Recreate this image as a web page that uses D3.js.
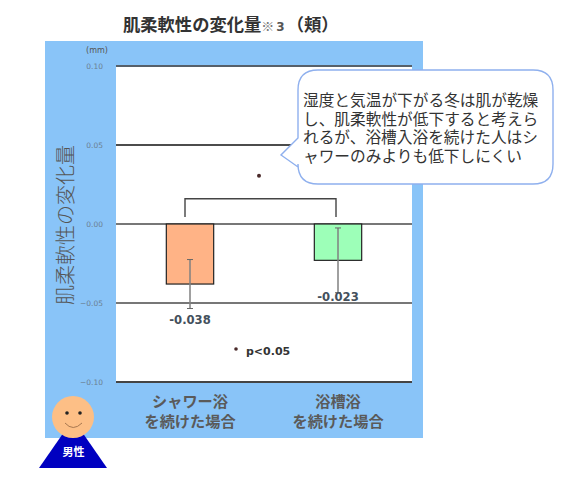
<!DOCTYPE html>
<html>
<head>
<meta charset="utf-8">
<script src="https://cdn.jsdelivr.net/npm/d3@7"></script>
<style>
  html, body { margin: 0; padding: 0; background: #fff; }
  text { font-family: "Noto Sans CJK JP", sans-serif; }
</style>
</head>
<body>
<svg id="chart"></svg>
<script>
// data
const categories = ["シャワー浴", "浴槽浴"];
const categorySub = ["を続けた場合", "を続けた場合"];
const means = [-0.038, -0.023];
const errors = [0.0155, 0.0205];
const yTicks = [0.10, 0.05, 0.00, -0.05, -0.10];
const noteLines = [
  "湿度と気温が下がる冬は肌が乾燥",
  "し、肌柔軟性が低下すると考えら",
  "れるが、浴槽入浴を続けた人はシ",
  "ャワーのみよりも低下しにくい"
];
const barColors = ["#ffb386", "#9dffb8"];
const gridColors = ["#56606a", "#111111", "#777777", "#777777", "#444444"];

const width = 585, height = 494;
const svg = d3.select("#chart").attr("width", width).attr("height", height);

// 水色の背景とプロット領域
svg.append("rect").attr("x", 45).attr("y", 41).attr("width", 378).attr("height", 397).attr("fill", "#89c4f8");
svg.append("rect").attr("x", 116).attr("y", 66).attr("width", 296).attr("height", 316).attr("fill", "#fff");

const x = d3.scaleBand().domain(categories).range([116, 412]).paddingInner(0.68).paddingOuter(0.34);
const y = d3.scaleLinear().domain([-0.10, 0.10]).range([382, 66]);

// y軸
const yAxis = d3.axisLeft(y).tickValues(yTicks).tickSize(0).tickPadding(13).tickFormat(d3.format(".2f"));
const gy = svg.append("g").attr("transform", "translate(116,0)").call(yAxis);
gy.select(".domain").remove();
gy.selectAll("text").attr("fill", "#6b7f92").style("font-size", "7.5px").style("font-family", "'DejaVu Sans'");

svg.append("text").attr("x", 97).attr("y", 53).attr("text-anchor", "middle")
  .attr("fill", "#555").style("font-size", "8px").style("font-family", "'DejaVu Sans'").text("(mm)");

// グリッド線
svg.append("g").selectAll("line").data(yTicks).join("line")
  .attr("x1", 116).attr("x2", 412)
  .attr("y1", d => y(d)).attr("y2", d => y(d))
  .attr("stroke", (d, i) => gridColors[i])
  .attr("stroke-width", (d, i) => i === 1 ? 1.5 : 2);

// 棒
svg.append("g").selectAll("rect").data(means).join("rect")
  .attr("x", (d, i) => x(categories[i]))
  .attr("y", y(0))
  .attr("width", x.bandwidth())
  .attr("height", d => y(d) - y(0))
  .attr("fill", (d, i) => barColors[i])
  .attr("stroke", "#222").attr("stroke-width", 1.2);

// エラーバー
const err = svg.append("g").attr("stroke", "#808080");
means.forEach((m, i) => {
  const cx = x(categories[i]) + x.bandwidth() / 2;
  err.append("line").attr("x1", cx).attr("x2", cx)
    .attr("y1", y(m + errors[i])).attr("y2", y(m - errors[i])).attr("stroke-width", 1.5);
  [m + errors[i], m - errors[i]].forEach(v => {
    err.append("line").attr("x1", cx - 3).attr("x2", cx + 3)
      .attr("y1", y(v)).attr("y2", y(v)).attr("stroke", "#666").attr("stroke-width", 1);
  });
});

// 値ラベル
svg.append("g").selectAll("text").data(means).join("text")
  .attr("x", (d, i) => x(categories[i]) + x.bandwidth() / 2)
  .attr("y", d => y(d - 0.0255))
  .attr("text-anchor", "middle")
  .attr("fill", "#44505c")
  .style("font-family", "'DejaVu Sans'").style("font-size", "11.6px").style("font-weight", "bold")
  .text(d => d3.format(".3f")(d).replace("−", "-"));

// 有意差のブラケット
const bx0 = x(categories[0]) + x.bandwidth() / 2 - 5, bx1 = x(categories[1]) + x.bandwidth() / 2 - 2;
svg.append("path")
  .attr("d", d3.line()([[bx0, y(0.0045)], [bx0, y(0.016)], [bx1, y(0.016)], [bx1, y(0.0045)]]))
  .attr("fill", "none").attr("stroke", "#444").attr("stroke-width", 1.4);
svg.append("circle").attr("cx", (bx0 + bx1) / 2 - 1.5).attr("cy", y(0.0305)).attr("r", 2).attr("fill", "#4a2a2a");

svg.append("circle").attr("cx", 236).attr("cy", 349).attr("r", 1.8).attr("fill", "#4a2a2a");
svg.append("text").attr("x", 246).attr("y", 355)
  .attr("fill", "#333")
  .style("font-family", "'DejaVu Sans'").style("font-size", "11px").style("font-weight", "bold")
  .text("p<0.05");

// カテゴリラベル
const catLabels = svg.append("g").attr("text-anchor", "middle").attr("fill", "#5a5a5a")
  .style("font-size", "15.2px").style("font-weight", "bold");
categories.forEach((c, i) => {
  const cx = x(c) + x.bandwidth() / 2;
  catLabels.append("text").attr("x", cx).attr("y", 407).text(c);
  catLabels.append("text").attr("x", cx).attr("y", 427).text(categorySub[i]);
});

// タイトル
const title = svg.append("text").attr("x", 123).attr("y", 31).attr("fill", "#333")
  .style("font-size", "17.3px").style("font-weight", "bold");
title.append("tspan").text("肌柔軟性の変化量");
title.append("tspan").attr("fill", "#777").style("font-size", "13px").text("※");
title.append("tspan").attr("fill", "#555").style("font-size", "12px").style("font-family", "'DejaVu Sans'").attr("dx", 2).text("3");
title.append("tspan").attr("dx", 2).text("（頬）");

// y軸タイトル
svg.append("text").attr("transform", "translate(73,225) rotate(-90)")
  .attr("text-anchor", "middle").attr("fill", "#555")
  .style("font-size", "20px").style("font-weight", "300")
  .text("肌柔軟性の変化量");

// 吹き出し
const bx = 298, by = 70, bw = 255, bh = 114, r = 20;
svg.append("path")
  .attr("d", `M${bx + r},${by} H${bx + bw - r} Q${bx + bw},${by} ${bx + bw},${by + r}
    V${by + bh - r} Q${bx + bw},${by + bh} ${bx + bw - r},${by + bh}
    H${bx + r} Q${bx},${by + bh} ${bx},${by + bh - r} V167 L281,155 L${bx},138 V${by + r}
    Q${bx},${by} ${bx + r},${by} Z`)
  .attr("fill", "#fff").attr("stroke", "#8fb0ee").attr("stroke-width", 1.4);
svg.append("text").attr("fill", "#333").style("font-size", "15.7px")
  .selectAll("tspan").data(noteLines).join("tspan")
  .attr("x", 303).attr("y", (d, i) => 106 + i * 18.5)
  .text(d => d);

// 人物アイコン
svg.append("path").attr("d", "M73,419 L107,468 L39,468 Z").attr("fill", "#0000c0");
svg.append("circle").attr("cx", 73).attr("cy", 417).attr("r", 21).attr("fill", "#fdbf86");
svg.append("circle").attr("cx", 67).attr("cy", 413).attr("r", 1.8).attr("fill", "#222");
svg.append("circle").attr("cx", 80).attr("cy", 413).attr("r", 1.8).attr("fill", "#222");
svg.append("path").attr("d", "M65,423 Q73,432 82,423").attr("fill", "none").attr("stroke", "#a87850").attr("stroke-width", 1);
svg.append("text").attr("x", 73.5).attr("y", 456).attr("text-anchor", "middle")
  .attr("fill", "#fff").style("font-size", "11px").style("font-weight", "bold").text("男性");
</script>
</body>
</html>
